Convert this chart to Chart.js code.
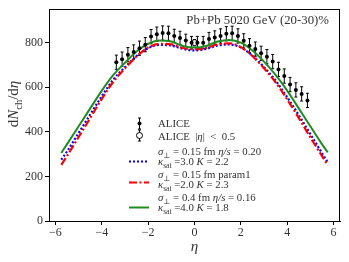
<!DOCTYPE html>
<html><head><meta charset="utf-8">
<script src="https://cdn.jsdelivr.net/npm/chart.js@4/dist/chart.umd.min.js"></script>
<style>html,body{margin:0;padding:0;background:#fff}#c{display:block}</style>
</head><body>
<canvas id="c" width="349" height="262"></canvas>
<script>
// ALICE data (pseudorapidity bins)
const aliceEta = [-3.375,-3.125,-2.875,-2.625,-2.375,-2.125,-1.875,-1.625,-1.375,-1.125,-0.875,-0.625,-0.375,-0.125,
  0.125,0.375,0.625,0.875,1.125,1.375,1.625,1.875,2.125,2.375,2.625,2.875,3.125,3.375,3.625,3.875,4.125,4.375,4.625,4.875];
const aliceVal = [712,726,746,758,775,791,827,838,843,842,830,821,810,800,
  800,800,816,823,830,840,842,830,808,786,771,752,737,715,680,650,612,588,570,541];
const aliceErr = [32,32,32,32,32,32,32,32,32,32,30,30,28,28,
  28,28,30,30,32,32,32,32,32,32,32,32,32,32,32,32,32,32,32,32];
// ALICE |eta| < 0.5
const centralEta = [0];
const centralVal = [800];
const centralErr = [14];
// Model curves
const modelEta = [-5.75,-5.5,-5,-4.5,-4,-3.5,-3,-2.5,-2,-1.5,-1,-0.5,0,0.5,1,1.5,2,2.5,3,3.5,4,4.5,5,5.5,5.75];
const modelBlue  = [275,312,395,478,560,635,690,740,775,790,787,772,765,772,787,792,778,742,690,630,555,475,390,305,263];
const modelRed   = [252,292,377,462,548,625,685,738,778,795,792,776,770,776,792,797,780,740,685,622,545,462,375,292,250];
const modelGreen = [305,345,425,505,585,655,710,760,795,810,805,785,778,785,805,812,800,765,715,655,585,505,425,345,308];
// Axis ticks
const xTicks = [-6,-4,-2,0,2,4,6];
const yTicks = [0,200,400,600,800];
const titleText = "Pb+Pb 5020 GeV (20-30)%";

const SERIF = "'Liberation Serif', 'DejaVu Serif', serif";
const pts = (xs, ys) => xs.map((x, i) => ({x: x, y: ys[i]}));

function drawRich(ctx, parts, x, y, size, align) {
  const fontFor = (st) => {
    const sz = (st === 's' || st === 'si') ? size * 0.7 : size;
    const it = (st === 'i' || st === 'si') ? 'italic ' : '';
    return it + sz + 'px ' + SERIF;
  };
  let total = 0;
  parts.forEach(p => { ctx.font = fontFor(p[1]); total += ctx.measureText(p[0]).width; });
  let cx = align === 'center' ? x - total / 2 : (align === 'right' ? x - total : x);
  ctx.textBaseline = 'alphabetic';
  ctx.textAlign = 'left';
  parts.forEach(p => {
    ctx.font = fontFor(p[1]);
    const dy = (p[1] === 's' || p[1] === 'si') ? size * 0.25 : 0;
    ctx.fillText(p[0], cx, y + dy);
    cx += ctx.measureText(p[0]).width;
  });
}

const errorBarPlugin = {
  id: 'errbars',
  beforeDatasetsDraw(chart) {
    const ctx = chart.ctx, xs = chart.scales.x, ys = chart.scales.y;
    ctx.save();
    ctx.strokeStyle = '#000';
    ctx.lineWidth = 1;
    const draw = (etas, vals, errs) => {
      etas.forEach((e, i) => {
        const px = xs.getPixelForValue(e);
        const y1 = ys.getPixelForValue(vals[i] - errs[i]);
        const y2 = ys.getPixelForValue(vals[i] + errs[i]);
        ctx.beginPath();
        ctx.moveTo(px, y1); ctx.lineTo(px, y2);
        ctx.moveTo(px - 1.5, y1); ctx.lineTo(px + 1.5, y1);
        ctx.moveTo(px - 1.5, y2); ctx.lineTo(px + 1.5, y2);
        ctx.stroke();
      });
    };
    draw(aliceEta, aliceVal, aliceErr);
    draw(centralEta, centralVal, centralErr);
    ctx.restore();
  }
};

const decorPlugin = {
  id: 'decor',
  afterDraw(chart) {
    const ctx = chart.ctx, a = chart.chartArea;
    ctx.save();
    ctx.strokeStyle = '#000';
    ctx.lineWidth = 1;
    ctx.strokeRect(Math.round(a.left) + 0.5, Math.round(a.top) + 0.5, Math.round(a.right - a.left) - 1, Math.round(a.bottom - a.top));
    ctx.fillStyle = '#333';
    ctx.font = '12.8px ' + SERIF;
    ctx.textAlign = 'right';
    ctx.textBaseline = 'alphabetic';
    ctx.fillText(titleText, a.right - 11, a.top + 15);
    drawRich(ctx, [['η', 'i']], (a.left + a.right) / 2, 251, 15, 'center');
    ctx.save();
    ctx.translate(18, 104);
    ctx.rotate(-Math.PI / 2);
    drawRich(ctx, [['d', 'r'], ['N', 'i'], ['ch', 's'], ['/d', 'r'], ['η', 'i']], 0, 0, 15, 'center');
    ctx.restore();
    // legend
    const lx = 129, lx2 = 149, tx = 158, fs = 10.8;
    ctx.strokeStyle = '#000'; ctx.fillStyle = '#000';
    ctx.beginPath(); ctx.moveTo(139.5, 118); ctx.lineTo(139.5, 129);
    ctx.moveTo(138, 118); ctx.lineTo(141, 118); ctx.moveTo(138, 129); ctx.lineTo(141, 129); ctx.stroke();
    ctx.beginPath(); ctx.arc(139.5, 123.5, 2, 0, Math.PI * 2); ctx.fill();
    ctx.beginPath(); ctx.moveTo(139.5, 130); ctx.lineTo(139.5, 141);
    ctx.moveTo(138, 130); ctx.lineTo(141, 130); ctx.moveTo(138, 141); ctx.lineTo(141, 141); ctx.stroke();
    ctx.fillStyle = '#fff';
    ctx.beginPath(); ctx.arc(139.5, 135.5, 3, 0, Math.PI * 2); ctx.fill(); ctx.stroke();
    ctx.fillStyle = '#333';
    drawRich(ctx, [['ALICE', 'r']], tx, 127, fs, 'left');
    drawRich(ctx, [['ALICE  |', 'r'], ['η', 'i'], ['|  <  0.5', 'r']], tx, 139.5, fs, 'left');
    drawRich(ctx, [['σ', 'i'], ['⊥', 's'], [' = 0.15 fm ', 'r'], ['η/s', 'i'], [' = 0.20', 'r']], tx, 155, fs, 'left');
    drawRich(ctx, [['κ', 'i'], ['sat', 's'], [' =3.0 ', 'r'], ['K', 'i'], [' = 2.2', 'r']], tx, 165, fs, 'left');
    drawRich(ctx, [['σ', 'i'], ['⊥', 's'], [' = 0.15 fm param1', 'r']], tx, 178, fs, 'left');
    drawRich(ctx, [['κ', 'i'], ['sat', 's'], [' =2.0 ', 'r'], ['K', 'i'], [' = 2.3', 'r']], tx, 188, fs, 'left');
    drawRich(ctx, [['σ', 'i'], ['⊥', 's'], [' = 0.4 fm ', 'r'], ['η/s', 'i'], [' = 0.16', 'r']], tx, 201, fs, 'left');
    drawRich(ctx, [['κ', 'i'], ['sat', 's'], [' =4.0 ', 'r'], ['K', 'i'], [' = 1.8', 'r']], tx, 211, fs, 'left');
    const seg = (y, color, dash) => {
      ctx.save(); ctx.strokeStyle = color; ctx.lineWidth = 2; ctx.setLineDash(dash);
      ctx.beginPath(); ctx.moveTo(lx, y); ctx.lineTo(lx2, y); ctx.stroke(); ctx.restore();
    };
    seg(161.5, '#0000ff', [2, 2]);
    seg(182.5, '#ff0000', [8, 2.5, 2, 2.5]);
    seg(207.5, '#228b22', []);
    ctx.restore();
  }
};

new Chart(document.getElementById('c'), {
  type: 'scatter',
  data: {
    datasets: [
      {label: 'ALICE', data: pts(aliceEta, aliceVal), pointRadius: 2, pointBackgroundColor: '#000', pointBorderColor: '#000', pointBorderWidth: 0, showLine: false, order: 0},
      {label: 'ALICE |η| < 0.5', data: pts(centralEta, centralVal), pointRadius: 3, pointBackgroundColor: '#fff', pointBorderColor: '#000', pointBorderWidth: 1, showLine: false, order: 0},
      {label: 'blue', data: pts(modelEta, modelBlue), showLine: true, borderColor: '#0000ff', borderWidth: 2.2, borderDash: [2, 2], pointRadius: 0, cubicInterpolationMode: 'monotone', fill: false, order: 3},
      {label: 'red', data: pts(modelEta, modelRed), showLine: true, borderColor: '#ff0000', borderWidth: 2.2, borderDash: [8, 2.5, 2, 2.5], pointRadius: 0, cubicInterpolationMode: 'monotone', fill: false, order: 2},
      {label: 'green', data: pts(modelEta, modelGreen), showLine: true, borderColor: '#228b22', borderWidth: 2, pointRadius: 0, cubicInterpolationMode: 'monotone', fill: false, order: 1}
    ]
  },
  options: {
    responsive: false,
    animation: false,
    devicePixelRatio: 1,
    layout: {padding: {left: 0, right: 9, top: 8, bottom: 0}},
    plugins: {legend: {display: false}, tooltip: {enabled: false}},
    scales: {
      x: {
        type: 'linear', min: -6.28, max: 6.28,
        afterFit: s => { s.height = 41; },
        afterBuildTicks: s => { s.ticks = xTicks.map(v => ({value: v})); },
        ticks: {font: {family: SERIF, size: 12}, color: '#333', padding: 1, maxRotation: 0,
          callback: v => String(v).replace('-', '\u2212')},
        grid: {display: true, drawOnChartArea: false, drawTicks: true, tickLength: 4, color: '#000', tickColor: '#000'},
        border: {display: true, color: '#000'}
      },
      y: {
        type: 'linear', min: 0, max: 950,
        afterFit: s => { s.width = 49; },
        afterBuildTicks: s => { s.ticks = yTicks.map(v => ({value: v})); },
        ticks: {font: {family: SERIF, size: 12}, color: '#333', padding: 2},
        grid: {display: true, drawOnChartArea: false, drawTicks: true, tickLength: 4, color: '#000', tickColor: '#000'},
        border: {display: true, color: '#000'}
      }
    }
  },
  plugins: [errorBarPlugin, decorPlugin]
});
</script>
</body></html>
